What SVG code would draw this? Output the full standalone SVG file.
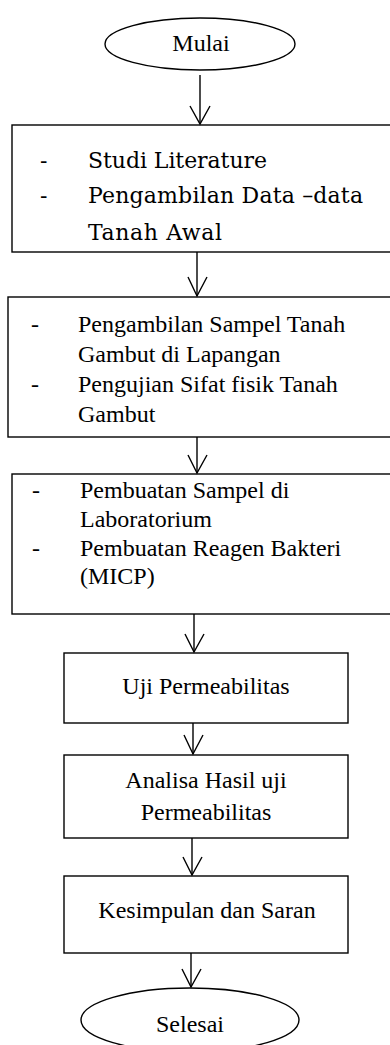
<svg xmlns="http://www.w3.org/2000/svg" width="390" height="1045" viewBox="0 0 390 1045">
<defs>
<style>
.shape{fill:#fff;stroke:#000;stroke-width:1.4}
.t{font-family:"Liberation Serif","Times New Roman",serif;font-size:24px;fill:#000}
.c{font-family:"DejaVu Serif",serif;font-size:22px;fill:#000}
.mid{text-anchor:middle}
.conn line,.conn polyline{fill:none;stroke:#000;stroke-width:1.4}
</style>
</defs>
<rect width="390" height="1045" fill="#fff"/>
<g id="mulai">
<ellipse class="shape" cx="200" cy="44" rx="95" ry="26"/>
<text class="t mid" x="201" y="51">Mulai</text>
</g>
<g id="box1">
<rect class="shape" x="12" y="125" width="400" height="127"/>
<text class="c" x="40" y="168">-</text>
<text class="c" x="88" y="168" textLength="179">Studi Literature</text>
<text class="c" x="40" y="203">-</text>
<text class="c" x="88" y="203" textLength="275">Pengambilan Data –data</text>
<text class="c" x="88" y="240" textLength="134">Tanah Awal</text>
</g>
<g id="box2">
<rect class="shape" x="8" y="297" width="400" height="140"/>
<text class="t" x="31" y="332">-</text>
<text class="t" x="78" y="332">Pengambilan Sampel Tanah</text>
<text class="t" x="78" y="362">Gambut di Lapangan</text>
<text class="t" x="31" y="392">-</text>
<text class="t" x="78" y="392">Pengujian Sifat fisik Tanah</text>
<text class="t" x="78" y="422">Gambut</text>
</g>
<g id="box3">
<rect class="shape" x="12" y="474" width="400" height="140"/>
<text class="t" x="32" y="498">-</text>
<text class="t" x="80" y="498">Pembuatan Sampel di</text>
<text class="t" x="80" y="527">Laboratorium</text>
<text class="t" x="32" y="556">-</text>
<text class="t" x="80" y="556">Pembuatan Reagen Bakteri</text>
<text class="t" x="80" y="584">(MICP)</text>
</g>
<g id="uji">
<rect class="shape" x="64" y="653" width="284" height="70"/>
<text class="t mid" x="206" y="694">Uji Permeabilitas</text>
</g>
<g id="analisa">
<rect class="shape" x="64" y="755" width="284" height="83"/>
<text class="t mid" x="206" y="788">Analisa Hasil uji</text>
<text class="t mid" x="206" y="820">Permeabilitas</text>
</g>
<g id="kesimpulan">
<rect class="shape" x="64" y="876" width="284" height="77"/>
<text class="t mid" x="207" y="918">Kesimpulan dan Saran</text>
</g>
<g id="selesai">
<ellipse class="shape" cx="190" cy="1020" rx="109" ry="32"/>
<text class="t mid" x="190" y="1032">Selesai</text>
</g>
<g id="connectors" class="conn">
<line x1="200" y1="75" x2="200" y2="124"/>
<polyline points="190,106 200,124 210,106"/>
<line x1="197" y1="252" x2="197" y2="296"/>
<polyline points="188,277 197,296 207,277"/>
<line x1="197" y1="437" x2="197" y2="473"/>
<polyline points="188,455 197,473 207,455"/>
<line x1="194" y1="614" x2="194" y2="652"/>
<polyline points="185,634 194,652 204,634"/>
<line x1="193" y1="723" x2="193" y2="754"/>
<polyline points="184,735 193,754 203,735"/>
<line x1="192" y1="838" x2="192" y2="875"/>
<polyline points="183,857 192,875 202,857"/>
<line x1="191" y1="953" x2="191" y2="987"/>
<polyline points="182,969 191,987 201,969"/>
</g>
</svg>
